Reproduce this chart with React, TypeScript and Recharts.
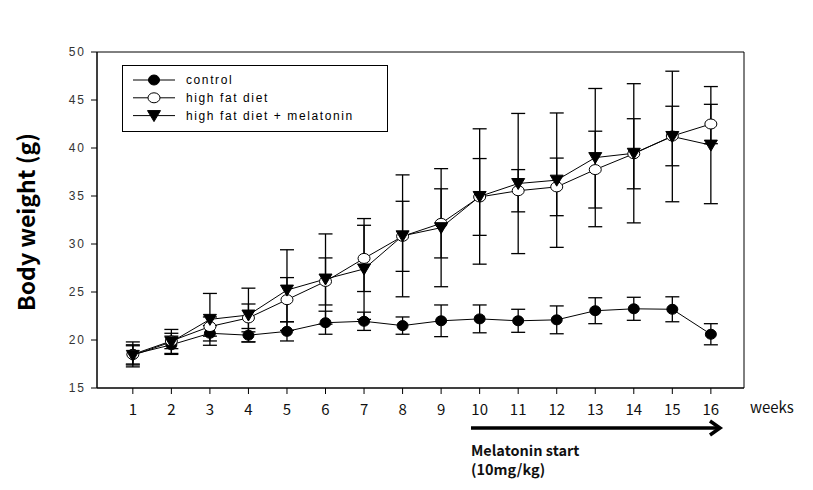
import React from "react";
import {
  LineChart,
  Line,
  XAxis,
  YAxis,
  ErrorBar,
  ReferenceArea,
} from "recharts";

const weeks = [1, 2, 3, 4, 5, 6, 7, 8, 9, 10, 11, 12, 13, 14, 15, 16];
const control = [18.5, 19.5, 20.7, 20.5, 20.9, 21.8, 21.95, 21.5, 22.0, 22.2, 22.0, 22.1, 23.05, 23.25, 23.2, 20.6];
const controlErr = [1.0, 0.9, 0.8, 0.7, 1.0, 1.2, 0.95, 0.9, 1.65, 1.45, 1.2, 1.45, 1.35, 1.2, 1.3, 1.1];
const hfd = [18.5, 19.9, 21.4, 22.3, 24.2, 26.1, 28.5, 30.8, 32.15, 34.9, 35.55, 35.95, 37.75, 39.4, 41.25, 42.5];
const hfdErr = [1.3, 0.8, 1.0, 1.45, 2.3, 2.45, 3.45, 3.65, 3.6, 4.0, 2.2, 3.0, 4.0, 3.65, 3.1, 2.05];
const mel = [18.4, 19.8, 22.15, 22.6, 25.2, 26.35, 27.4, 30.85, 31.7, 34.95, 36.3, 36.65, 39.0, 39.45, 41.2, 40.3];
const melErr = [1.0, 1.3, 2.7, 2.8, 4.2, 4.7, 5.25, 6.35, 6.15, 7.05, 7.3, 7.0, 7.2, 7.25, 6.8, 6.1];
const yTicks = [15, 20, 25, 30, 35, 40, 45, 50];
const seriesNames = ["control", "high fat diet", "high fat diet + melatonin"];

const data = weeks.map((w, i) => ({
  week: w,
  control: control[i],
  controlErr: controlErr[i],
  hfd: hfd[i],
  hfdErr: hfdErr[i],
  mel: mel[i],
  melErr: melErr[i],
}));

const X_MIN = 0.07;
const X_MAX = 16.86;

const Marker = ({ kind, cx, cy }: { kind: string; cx: number; cy: number }) => {
  if (kind === "control") {
    return <ellipse cx={cx} cy={cy} rx={5.5} ry={5} fill="#000" stroke="#000" />;
  }
  if (kind === "hfd") {
    return <ellipse cx={cx} cy={cy} rx={6} ry={5} fill="#fff" stroke="#000" strokeWidth={1} />;
  }
  return (
    <polygon
      points={`${cx - 6.5},${cy - 5} ${cx + 6.5},${cy - 5} ${cx},${cy + 6}`}
      fill="#000"
      stroke="#000"
    />
  );
};

const makeDot = (kind: string) => (props: any) => {
  const { cx, cy, index } = props;
  if (cx == null || cy == null) return <g key={`${kind}-${index}`} />;
  return (
    <g key={`${kind}-${index}`}>
      <Marker kind={kind} cx={cx} cy={cy} />
    </g>
  );
};

const legendKinds = ["control", "hfd", "mel"];

const LegendBox = () => (
  <div
    style={{
      position: "absolute",
      left: 114,
      top: 57,
      width: 266,
      height: 67,
      border: "1px solid #000",
      boxSizing: "border-box",
      background: "#fff",
    }}
  >
    <svg width={264} height={65} style={{ position: "absolute", left: 0, top: 0 }}>
      {legendKinds.map((k, i) => {
        const y = 14 + i * 17.8;
        return (
          <g key={k}>
            <line x1={10} x2={52} y1={y} y2={y} stroke="#000" strokeWidth={1} />
            <Marker kind={k} cx={31} cy={y} />
            <text
              x={63}
              y={y + 4}
              fontFamily="Arial, 'Liberation Sans', sans-serif"
              fontSize={12}
              letterSpacing={1.6}
              fill="#000"
            >
              {seriesNames[i]}
            </text>
          </g>
        );
      })}
    </svg>
  </div>
);

export default function App() {
  return (
    <div style={{ position: "relative", width: 797, height: 474, background: "#fff" }}>
      <LineChart
        width={797}
        height={474}
        data={data}
        margin={{ top: 44, right: 61, bottom: 64, left: 0 }}
      >
        <XAxis
          dataKey="week"
          type="number"
          domain={[X_MIN, X_MAX]}
          ticks={weeks}
          allowDataOverflow
          height={30}
          axisLine={{ stroke: "#000", strokeWidth: 1 }}
          tickLine={{ stroke: "#000" }}
          tickSize={6}
          tickMargin={10}
          tick={{ fill: "#111", fontSize: 15, fontFamily: "'Noto Sans CJK KR', sans-serif" }}
          interval={0}
        />
        <YAxis
          type="number"
          domain={[15, 50]}
          ticks={yTicks}
          width={89}
          axisLine={{ stroke: "#000", strokeWidth: 1 }}
          tickLine={{ stroke: "#000" }}
          tickSize={6}
          tickMargin={5}
          tick={{ fill: "#333", fontSize: 12, fontFamily: "Arial, 'Liberation Sans', sans-serif", letterSpacing: 2 }}
          interval={0}
        />
        <ReferenceArea
          x1={X_MIN}
          x2={X_MAX}
          y1={15}
          y2={50}
          fill="none"
          fillOpacity={0}
          stroke="#000"
          strokeWidth={1}
          ifOverflow="visible"
        />
        <Line
          dataKey="control"
          stroke="#000"
          strokeWidth={1}
          dot={makeDot("control")}
          activeDot={false}
          isAnimationActive={false}
        >
          <ErrorBar dataKey="controlErr" width={7} stroke="#000" strokeWidth={1.3} direction="y" isAnimationActive={false} />
        </Line>
        <Line
          dataKey="hfd"
          stroke="#000"
          strokeWidth={1}
          dot={makeDot("hfd")}
          activeDot={false}
          isAnimationActive={false}
        >
          <ErrorBar dataKey="hfdErr" width={7} stroke="#000" strokeWidth={1.3} direction="y" isAnimationActive={false} />
        </Line>
        <Line
          dataKey="mel"
          stroke="#000"
          strokeWidth={1}
          dot={makeDot("mel")}
          activeDot={false}
          isAnimationActive={false}
        >
          <ErrorBar dataKey="melErr" width={7} stroke="#000" strokeWidth={1.3} direction="y" isAnimationActive={false} />
        </Line>
      </LineChart>
      <LegendBox />
      <svg
        width={797}
        height={474}
        style={{ position: "absolute", left: 0, top: 0, pointerEvents: "none" }}
      >
        <text
          transform="translate(27,214) rotate(-90)"
          textAnchor="middle"
          fontFamily="'Noto Sans CJK KR', sans-serif"
          fontWeight="bold"
          fontSize={23}
          fill="#000"
        >
          Body weight (g)
        </text>
        <text x={742} y={405} fontFamily="'Noto Sans CJK KR', sans-serif" fontSize={15} fill="#111">
          weeks
        </text>
        <line x1={463} x2={710} y1={420} y2={420} stroke="#000" strokeWidth={3.5} />
        <polyline points="702,413 712,420 702,427" fill="none" stroke="#000" strokeWidth={3.5} />
        <text x={463} y={448} fontFamily="'Noto Sans CJK KR', sans-serif" fontWeight="bold" fontSize={14.5} fill="#111">
          Melatonin start
        </text>
        <text x={463} y={467} fontFamily="'Noto Sans CJK KR', sans-serif" fontWeight="bold" fontSize={14.5} fill="#111">
          (10mg/kg)
        </text>
      </svg>
    </div>
  );
}
